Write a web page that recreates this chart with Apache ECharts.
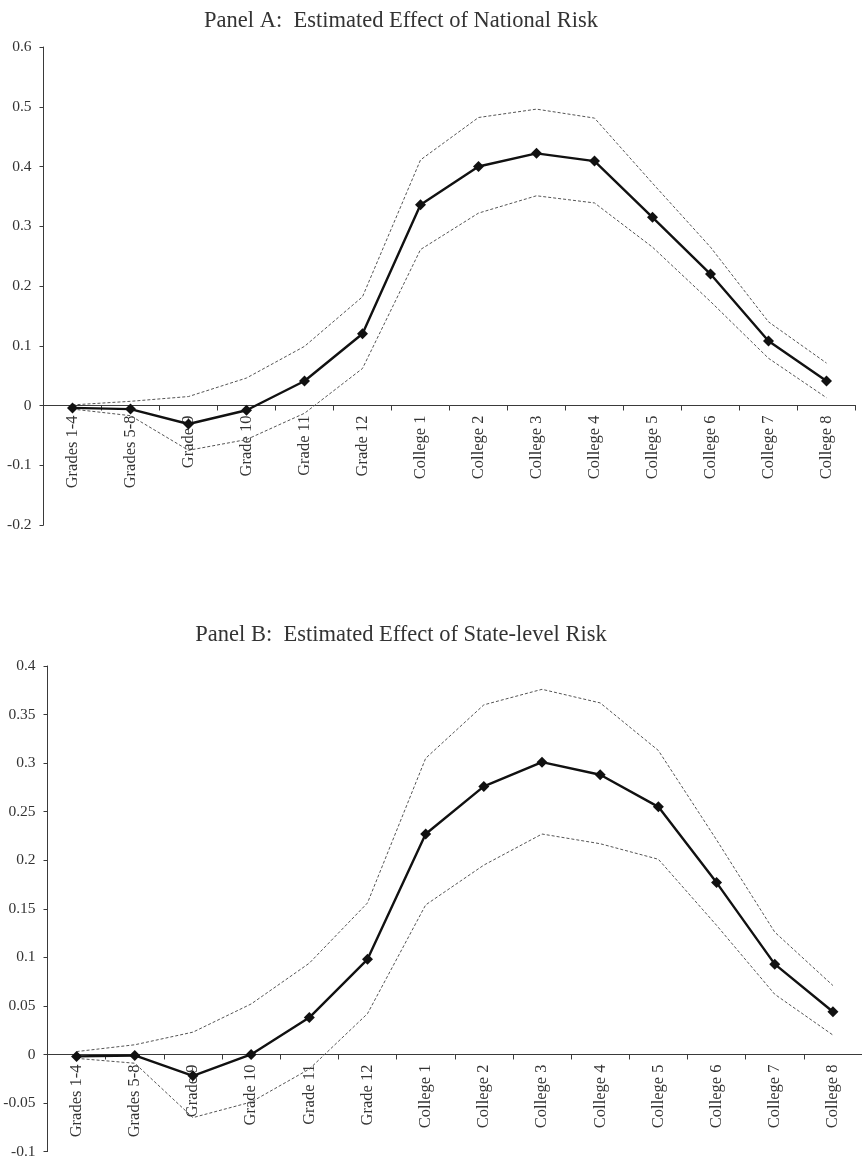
<!DOCTYPE html>
<html>
<head>
<meta charset="utf-8">
<script src="https://cdn.jsdelivr.net/npm/echarts@6/dist/echarts.min.js"></script>
<style>
html,body{margin:0;padding:0;background:#fff;}
#chart{width:862px;height:1162px;}
</style>
</head>
<body>
<div id="chart"></div>
<script>
const categories = ['Grades 1-4','Grades 5-8','Grade 9','Grade 10','Grade 11','Grade 12','College 1','College 2','College 3','College 4','College 5','College 6','College 7','College 8'];

const nationalEst   = [-0.004,-0.006,-0.031,-0.008,0.041,0.120,0.336,0.400,0.422,0.409,0.315,0.220,0.108,0.041];
const nationalUpper = [0.001,0.007,0.015,0.046,0.099,0.182,0.411,0.482,0.496,0.481,0.372,0.265,0.140,0.071];
const nationalLower = [-0.006,-0.017,-0.075,-0.057,-0.013,0.062,0.261,0.322,0.351,0.339,0.265,0.174,0.079,0.013];

const stateEst   = [-0.002,-0.001,-0.022,0.000,0.038,0.098,0.227,0.276,0.301,0.288,0.255,0.177,0.093,0.044];
const stateUpper = [0.003,0.010,0.023,0.052,0.094,0.156,0.305,0.360,0.376,0.362,0.313,0.221,0.126,0.071];
const stateLower = [-0.004,-0.009,-0.065,-0.049,-0.015,0.042,0.154,0.195,0.227,0.217,0.201,0.133,0.062,0.020];

const titleA = 'Panel A:  Estimated Effect of National Risk';
const titleB = 'Panel B:  Estimated Effect of State-level Risk';

const FONT = '"Liberation Serif", "Times New Roman", serif';
const AXIS_COLOR = '#3a3a3a';
const TEXT_COLOR = '#333';

const grids = [
  {left:43.5, top:47, width:812, height:478},
  {left:47.5, top:666, width:817, height:485.6}
];
const yRanges = [
  {min:-0.2, max:0.6, interval:0.1},
  {min:-0.1, max:0.4, interval:0.05}
];

// the category axis sits on the value axis' zero line: shift it up from the grid bottom
function zeroOffset(i){
  const r = yRanges[i];
  return -((0 - r.min) / (r.max - r.min)) * grids[i].height;
}

function xAxisCfg(i){
  return {
    type:'category', gridIndex:i, data:categories, boundaryGap:true,
    position:'bottom', offset:zeroOffset(i),
    axisLine:{show:true, onZero:false, lineStyle:{color:AXIS_COLOR, width:1}},
    axisTick:{show:true, length:5, lineStyle:{color:AXIS_COLOR}},
    axisLabel:{rotate:90, margin:10, interval:0, fontFamily:FONT, fontSize:16.5, color:TEXT_COLOR},
    splitLine:{show:false}
  };
}
function yAxisCfg(i){
  const r = yRanges[i];
  return {
    type:'value', gridIndex:i, min:r.min, max:r.max, interval:r.interval,
    axisLine:{show:true, lineStyle:{color:AXIS_COLOR, width:1}},
    axisTick:{show:true, length:4, lineStyle:{color:AXIS_COLOR}},
    axisLabel:{margin:12, fontFamily:FONT, fontSize:15.5, color:TEXT_COLOR,
      formatter: v => String(+v.toFixed(2))},
    splitLine:{show:false}
  };
}
function band(data, idx){
  return {type:'line', xAxisIndex:idx, yAxisIndex:idx, data, symbol:'none', silent:true,
    lineStyle:{color:'#555', width:1, type:[3,2]}, z:2};
}
function est(data, idx){
  return {type:'line', xAxisIndex:idx, yAxisIndex:idx, data, symbol:'diamond', symbolSize:11,
    itemStyle:{color:'#111'}, lineStyle:{color:'#111', width:2.4}, z:3};
}

const chart = echarts.init(document.getElementById('chart'), null, {renderer:'canvas'});
chart.setOption({
  backgroundColor:'#fff',
  animation:false,
  title:[
    {text:titleA, left:396, top:5, textAlign:'center', textStyle:{fontFamily:FONT, fontSize:22.5, fontWeight:'normal', color:TEXT_COLOR}},
    {text:titleB, left:396, top:619, textAlign:'center', textStyle:{fontFamily:FONT, fontSize:22.5, fontWeight:'normal', color:TEXT_COLOR}}
  ],
  grid:grids,
  xAxis:[xAxisCfg(0), xAxisCfg(1)],
  yAxis:[yAxisCfg(0), yAxisCfg(1)],
  series:[
    band(nationalUpper,0), band(nationalLower,0), est(nationalEst,0),
    band(stateUpper,1), band(stateLower,1), est(stateEst,1)
  ]
});
</script>
</body>
</html>
